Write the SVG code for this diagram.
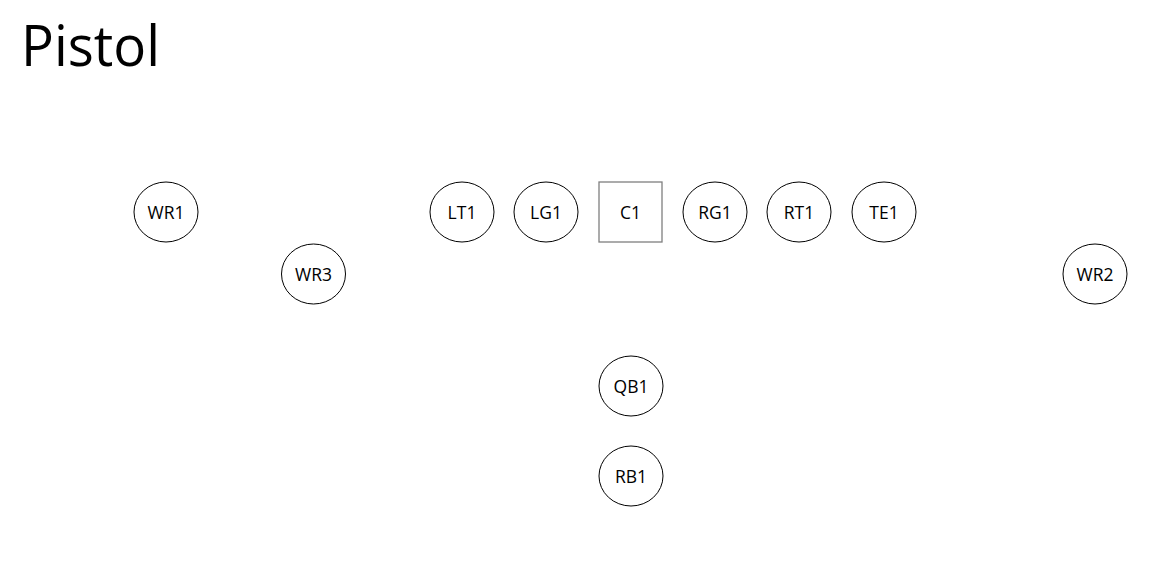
<svg xmlns="http://www.w3.org/2000/svg" width="1175" height="573" viewBox="0 0 1175 573">
<style>
.n ellipse{fill:#fff;stroke:#000;stroke-width:1}
.n rect{fill:#fff;stroke:#7f7f7f;stroke-width:1.3}
.n text{font-family:"Open Sans","Noto Sans",sans-serif;font-size:17.5px;fill:#000;text-anchor:middle;dominant-baseline:central}
.title{font-family:"Open Sans","Noto Sans",sans-serif;font-weight:400;font-size:56px;fill:#000}
</style>
<rect width="1175" height="573" fill="#fff"/>
<text class="title" x="21" y="66" textLength="139" lengthAdjust="spacingAndGlyphs">Pistol</text>
<g id="connectors"></g>
<g id="WR1" class="n"><ellipse cx="166" cy="212" rx="32" ry="30"/><text x="166" y="212">WR1</text></g>
<g id="WR3" class="n"><ellipse cx="313.5" cy="274" rx="32" ry="30"/><text x="313.5" y="274">WR3</text></g>
<g id="LT1" class="n"><ellipse cx="462" cy="212" rx="32" ry="30"/><text x="462" y="212">LT1</text></g>
<g id="LG1" class="n"><ellipse cx="546" cy="212" rx="32" ry="30"/><text x="546" y="212">LG1</text></g>
<g id="C1" class="n"><rect x="599" y="182" width="63" height="60"/><text x="630.5" y="212">C1</text></g>
<g id="RG1" class="n"><ellipse cx="715" cy="212" rx="32" ry="30"/><text x="715" y="212">RG1</text></g>
<g id="RT1" class="n"><ellipse cx="799" cy="212" rx="32" ry="30"/><text x="799" y="212">RT1</text></g>
<g id="TE1" class="n"><ellipse cx="884" cy="212" rx="32" ry="30"/><text x="884" y="212">TE1</text></g>
<g id="WR2" class="n"><ellipse cx="1095" cy="274" rx="32" ry="30"/><text x="1095" y="274">WR2</text></g>
<g id="QB1" class="n"><ellipse cx="631" cy="386" rx="32" ry="30"/><text x="631" y="386">QB1</text></g>
<g id="RB1" class="n"><ellipse cx="631" cy="476" rx="32" ry="30"/><text x="631" y="476">RB1</text></g>
</svg>
